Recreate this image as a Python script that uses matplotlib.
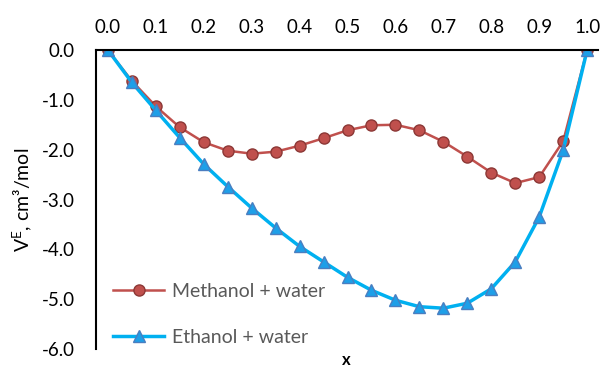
import numpy as np
import matplotlib.pyplot as plt

plt.rcParams["font.family"] = ["Lato", "DejaVu Sans"]
plt.rcParams["mathtext.fontset"] = "custom"
plt.rcParams["mathtext.rm"] = "Lato"

x_frac = [0.0, 0.05, 0.1, 0.15, 0.2, 0.25, 0.3, 0.35, 0.4, 0.45, 0.5,
          0.55, 0.6, 0.65, 0.7, 0.75, 0.8, 0.85, 0.9, 0.95, 1.0]
methanol = [0.0, -0.62, -1.13, -1.55, -1.85, -2.02, -2.08, -2.04, -1.92, -1.77, -1.61,
            -1.51, -1.50, -1.61, -1.84, -2.14, -2.46, -2.67, -2.55, -1.83, 0.0]
ethanol = [0.0, -0.65, -1.21, -1.76, -2.29, -2.74, -3.17, -3.57, -3.94, -4.25, -4.56,
           -4.82, -5.02, -5.15, -5.18, -5.08, -4.79, -4.25, -3.35, -2.01, 0.0]

xticks = np.arange(0, 1.01, 0.1)
yticks = np.arange(-6, 0.01, 1.0)

fig = plt.figure(figsize=(6.03, 3.69), dpi=100)
ax = fig.add_axes([0.159, 0.054, 0.833, 0.8105])

ax.plot(x_frac, methanol, color="#C0504D", lw=1.8, marker="o", ms=8,
        mfc="#C0504D", mec="#8C3836", mew=1.0, label="Methanol + water")
ax.plot(x_frac, ethanol, color="#00B0F0", lw=2.5, marker="^", ms=9,
        mfc="#1E9FE8", mec="#4A7EC0", mew=1.0, label="Ethanol + water")

ax.set_xlim(-0.025, 1.023)
ax.set_ylim(-6, 0)
ax.set_xticks(xticks)
ax.set_xticklabels([f"{t:.1f}" for t in xticks])
ax.set_yticks(yticks)
ax.set_yticklabels([f"{t:.1f}" for t in yticks])
ax.xaxis.tick_top()
ax.tick_params(length=0, labelsize=13.5, colors="black", pad=10)
ax.tick_params(axis="y", pad=15)

for side in ["right", "bottom"]:
    ax.spines[side].set_visible(False)
ax.spines["top"].set_linewidth(1.5)
ax.spines["left"].set_linewidth(1.5)

ax.set_ylabel(r"V$^{\mathrm{E}}$, cm³/mol", fontsize=14, labelpad=5)
fig.text(0.575, 0.003, "x", fontsize=12, ha="center", va="bottom", fontweight="bold")

ax.legend(loc="lower left", bbox_to_anchor=(0.0, -0.048), frameon=False, fontsize=14,
          labelcolor="#595959", handlelength=2.6, labelspacing=1.5, handletextpad=0.4)

plt.savefig("out.png", dpi=100)
plt.close()
